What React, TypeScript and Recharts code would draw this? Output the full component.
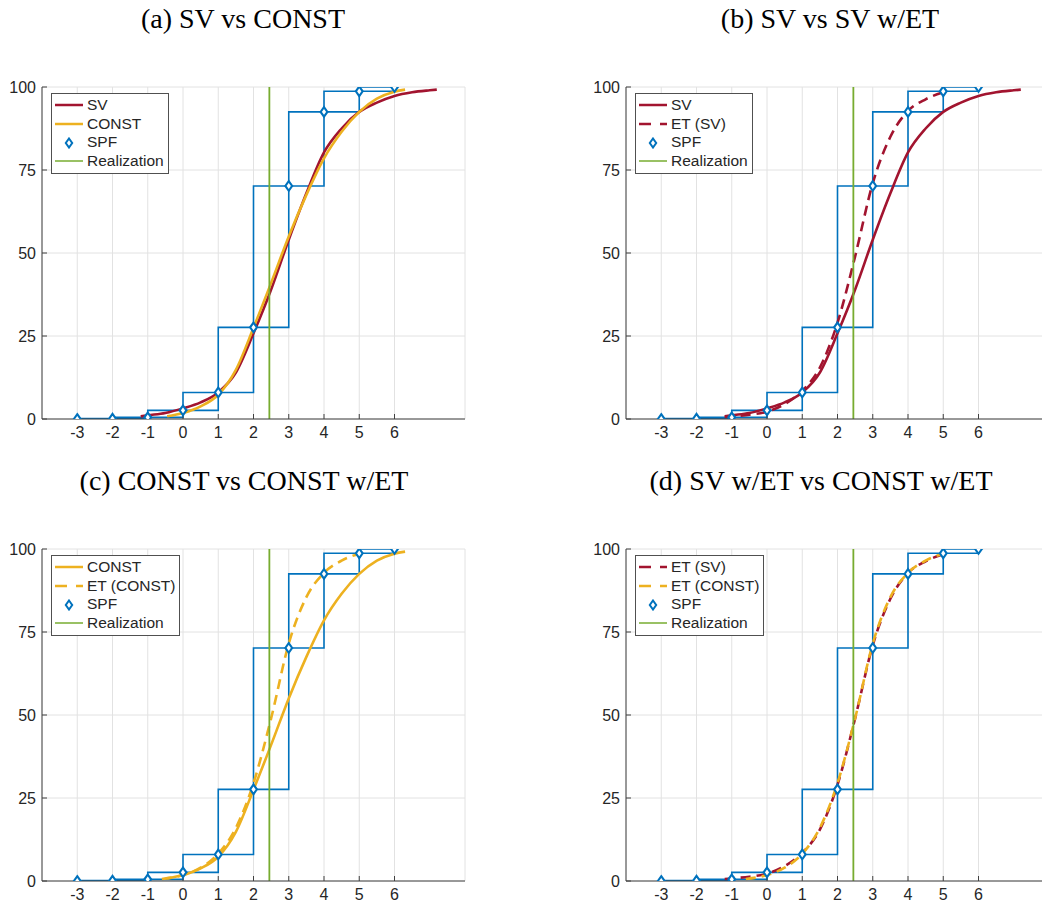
import React from 'react';
import { ComposedChart, Line, Scatter, XAxis, YAxis, CartesianGrid, ReferenceLine } from 'recharts';

// ---------- data ----------
const xTicks = [-3, -2, -1, 0, 1, 2, 3, 4, 5, 6];
const yTicks = [0, 25, 50, 75, 100];

const spfX = [-3, -2, -1, 0, 1, 2, 3, 4, 5, 6];
const spfY = [0, 0.1, 0.5, 2.6, 8.0, 27.6, 70.2, 92.5, 98.7, 100];

const svX = [-1.2, -1, -0.5, 0, 0.5, 1, 1.5, 2, 2.5, 3, 3.5, 4, 4.5, 5, 5.5, 6, 6.5, 7, 7.2];
const svY = [0.8, 1.1, 1.8, 3.2, 5, 8, 14, 25.8, 39, 54, 68, 80.3, 87.5, 92.5, 95.3, 97.3, 98.4, 99, 99.2];

const constX = [-0.45, 0, 0.5, 1, 1.5, 2, 2.5, 3, 3.5, 4, 4.5, 5, 5.5, 6, 6.3];
const constY = [0.8, 1.8, 3.8, 7.3, 14.8, 27.5, 41, 55, 67.5, 78.5, 86.5, 92.5, 96.5, 98.6, 99.2];

const etSvX = [-1.2, -1, -0.5, 0, 0.5, 1, 1.5, 2, 2.5, 3, 3.5, 4, 4.5, 5];
const etSvY = [0.6, 0.8, 1.3, 2.2, 4.5, 8.5, 15.5, 29, 49, 71, 85, 92.8, 96.3, 98.4];

const etConstX = [-0.6, 0, 0.5, 1, 1.5, 2, 2.5, 3, 3.5, 4, 4.5, 5];
const etConstY = [0.6, 1.8, 4, 8.2, 16, 29.5, 49, 71.5, 85.5, 92.8, 96.5, 98.6];

const realizationX = 2.45;

const panelTitles = [
  '(a) SV vs CONST',
  '(b) SV vs SV w/ET',
  '(c) CONST vs CONST w/ET',
  '(d) SV w/ET vs CONST w/ET',
];

// ---------- styles ----------
const C_SV = '#A2142F';
const C_CONST = '#EDB120';
const C_SPF = '#0072BD';
const C_REAL = '#77AC30';
const AXIS = '#404040';
const TXT = '#262626';
const SANS = '"Liberation Sans", Arial, Helvetica, sans-serif';
const SERIF = '"Liberation Serif", "Times New Roman", serif';

const pts = (xs: number[], ys: number[]) => xs.map((x, i) => ({ x, y: ys[i] }));

type Series = { key: string; label: string; xs: number[]; ys: number[]; color: string; dashed: boolean };
const SERIES: Record<string, Series> = {
  sv: { key: 'sv', label: 'SV', xs: svX, ys: svY, color: C_SV, dashed: false },
  cst: { key: 'cst', label: 'CONST', xs: constX, ys: constY, color: C_CONST, dashed: false },
  etsv: { key: 'etsv', label: 'ET (SV)', xs: etSvX, ys: etSvY, color: C_SV, dashed: true },
  etcst: { key: 'etcst', label: 'ET (CONST)', xs: etConstX, ys: etConstY, color: C_CONST, dashed: true },
};

const panels = [
  { title: panelTitles[0], left: 0, top: 0, titleX: 243, series: ['sv', 'cst'] },
  { title: panelTitles[1], left: 584, top: 0, titleX: 830, series: ['sv', 'etsv'] },
  { title: panelTitles[2], left: 0, top: 462, titleX: 244, series: ['cst', 'etcst'] },
  { title: panelTitles[3], left: 584, top: 462, titleX: 821, series: ['etsv', 'etcst'] },
];

const DASH = '10 6';

const Diamond = (props: any) => {
  const { cx, cy } = props;
  if (cx == null || cy == null) return null;
  return (
    <path
      d={`M${cx},${cy - 4.8} L${cx + 3.4},${cy} L${cx},${cy + 4.8} L${cx - 3.4},${cy} Z`}
      fill="#ffffff"
      stroke={C_SPF}
      strokeWidth={2.1}
    />
  );
};

function LegendBox({ items }: { items: Series[] }) {
  const rows: { label: string; kind: string; color: string; dashed?: boolean }[] = [
    ...items.map((s) => ({ label: s.label, kind: 'line', color: s.color, dashed: s.dashed })),
    { label: 'SPF', kind: 'diamond', color: C_SPF },
    { label: 'Realization', kind: 'thin', color: C_REAL },
  ];
  return (
    <div
      style={{
        position: 'absolute',
        left: 51,
        top: 93,
        border: '1px solid #505050',
        background: '#fff',
        padding: '2px 4px 2px 3px',
        fontFamily: SANS,
        fontSize: 15.5,
        color: TXT,
        lineHeight: '18.7px',
      }}
    >
      {rows.map((r) => (
        <div key={r.label} style={{ display: 'flex', alignItems: 'center', height: 18.7, whiteSpace: 'nowrap' }}>
          <svg width={28} height={12} style={{ display: 'block' }}>
            {r.kind === 'line' && (
              <line x1={0} y1={6} x2={28} y2={6} stroke={r.color} strokeWidth={2.5} strokeDasharray={r.dashed ? '12 9' : undefined} />
            )}
            {r.kind === 'thin' && <line x1={0} y1={6} x2={28} y2={6} stroke={r.color} strokeWidth={1.5} />}
            {r.kind === 'diamond' && (
              <path d="M14,1.5 L17.2,6 L14,10.5 L10.8,6 Z" fill="#fff" stroke={r.color} strokeWidth={2} />
            )}
          </svg>
          <span style={{ marginLeft: 4 }}>{r.label}</span>
        </div>
      ))}
    </div>
  );
}

function Panel({ p }: { p: (typeof panels)[number] }) {
  const spf = pts(spfX, spfY);
  const ser = p.series.map((k) => SERIES[k]);
  return (
    <div style={{ position: 'absolute', left: p.left, top: p.top, width: 480, height: 460 }}>
      <ComposedChart width={480} height={460} margin={{ top: 87, right: 15, bottom: 11, left: 0 }}>
        <CartesianGrid stroke="#e2e2e2" strokeWidth={1} />
        <XAxis
          type="number"
          dataKey="x"
          domain={[-4, 8]}
          ticks={xTicks}
          interval={0}
          allowDataOverflow
          height={30}
          axisLine={{ stroke: AXIS, strokeWidth: 1 }}
          tickLine={{ stroke: AXIS, strokeWidth: 1 }}
          tickSize={-5}
          tickMargin={13}
          tick={{ fill: TXT, fontSize: 16, fontFamily: SANS }}
        />
        <YAxis
          type="number"
          dataKey="y"
          domain={[0, 100]}
          ticks={yTicks}
          interval={0}
          allowDataOverflow
          width={42}
          axisLine={{ stroke: AXIS, strokeWidth: 1 }}
          tickLine={{ stroke: AXIS, strokeWidth: 1 }}
          tickSize={-5}
          tickMargin={11}
          tick={{ fill: TXT, fontSize: 16, fontFamily: SANS }}
        />
        <Line data={spf} dataKey="y" type="stepAfter" stroke={C_SPF} strokeWidth={1.6} dot={false} isAnimationActive={false} />
        <Line data={spf} dataKey="y" type="stepBefore" stroke={C_SPF} strokeWidth={1.6} dot={false} isAnimationActive={false} />
        {ser.map((s) => (
          <Line
            key={s.key}
            data={pts(s.xs, s.ys)}
            dataKey="y"
            type="monotone"
            stroke={s.color}
            strokeWidth={2.6}
            strokeDasharray={s.dashed ? DASH : undefined}
            dot={false}
            isAnimationActive={false}
          />
        ))}
        <ReferenceLine x={realizationX} stroke={C_REAL} strokeWidth={1.8} ifOverflow="extendDomain" />
        <Scatter data={spf} dataKey="y" shape={Diamond} isAnimationActive={false} />
      </ComposedChart>
      <LegendBox items={ser} />
    </div>
  );
}

export default function App() {
  return (
    <div style={{ position: 'absolute', left: 0, top: 0, width: 1042, height: 908, overflow: 'hidden', background: '#fff' }}>
      {panels.map((p) => (
        <Panel key={p.title} p={p} />
      ))}
      <svg width={1042} height={908} style={{ position: 'absolute', left: 0, top: 0, pointerEvents: 'none' }}>
        {panels.map((p) => (
          <text key={p.title} x={p.titleX} y={p.top + 28} textAnchor="middle" fontFamily={SERIF} fontSize={28} fill="#000">
            {p.title}
          </text>
        ))}
      </svg>
    </div>
  );
}
